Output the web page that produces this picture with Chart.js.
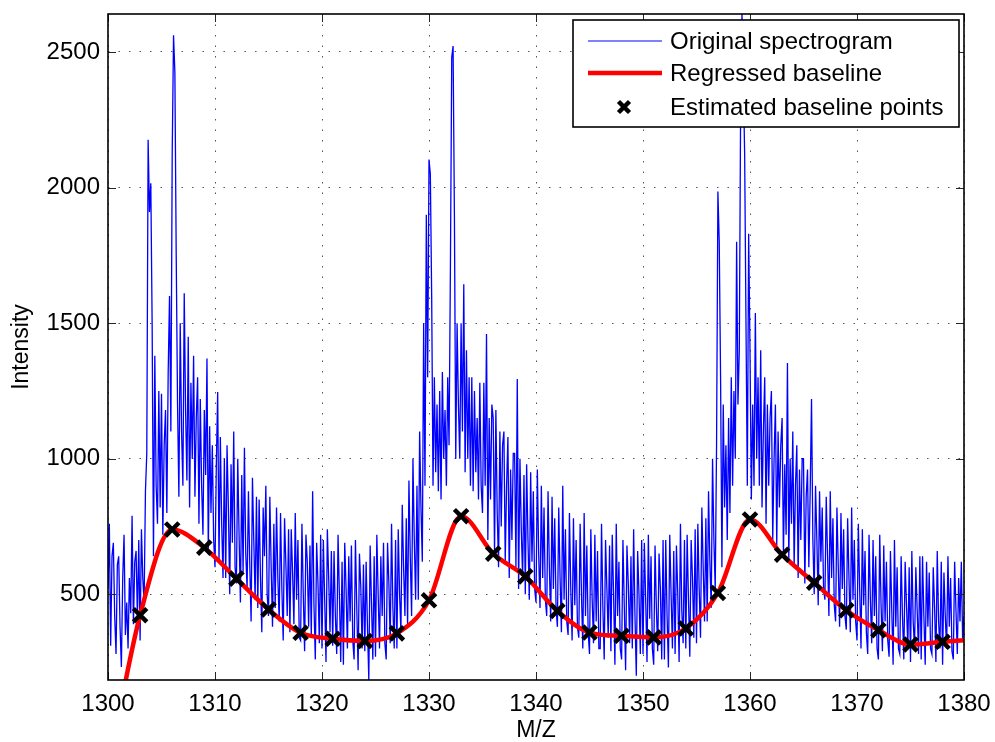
<!DOCTYPE html>
<html>
<head>
<meta charset="utf-8">
<script src="https://cdn.jsdelivr.net/npm/chart.js@4.4.1/dist/chart.umd.min.js"></script>
<style>
html,body{margin:0;padding:0;background:#fff;}
#wrap{position:relative;width:995px;height:742px;}
</style>
</head>
<body>
<div id="wrap"><canvas id="c" width="995" height="742"></canvas></div>
<script>
// ---- data ----
const mzStart = 1300;
const mzStep = 0.125;
const intensity = [
 520, 760, 310, 640, 690, 420, 280, 610,
 640, 380, 232, 560, 720, 350, 470, 300,
 560, 430, 790, 390, 620, 660, 410, 700,
 330, 740, 560, 470, 880, 1020, 2176, 1910,
 2016, 1500, 640, 1380, 900, 760, 1250, 820,
 1240, 720, 1050, 1180, 800, 1320, 1600, 1100,
 2120, 2562, 2426, 1750, 1200, 860, 1500, 1100,
 900, 1610, 1180, 920, 1450, 820, 1280, 1000,
 1380, 860, 1150, 1300, 760, 1220, 900, 720,
 1180, 940, 1370, 650, 1120, 800, 1050, 700,
 600, 980, 1246, 620, 1080, 760, 560, 1000,
 560, 1050, 820, 500, 980, 690, 1100, 600,
 540, 1000, 720, 470, 940, 580, 1040, 650,
 520, 880, 610, 400, 930, 700, 480, 860,
 450, 850, 560, 360, 820, 640, 900, 500,
 420, 860, 600, 380, 760, 450, 820, 560,
 400, 800, 520, 330, 780, 610, 420, 740,
 360, 740, 580, 390, 800, 480, 700, 340,
 330, 760, 500, 290, 720, 620, 380, 680,
 340, 880, 460, 260, 690, 540, 320, 720,
 300, 700, 480, 250, 740, 560, 360, 660,
 310, 660, 420, 280, 720, 500, 250, 620,
 240, 690, 520, 300, 640, 400, 680, 330,
 260, 700, 450, 220, 650, 530, 300, 610,
 290, 620, 380, 184, 680, 470, 260, 640,
 270, 720, 500, 300, 640, 420, 690, 320,
 260, 690, 540, 320, 760, 450, 300, 700,
 300, 740, 500, 360, 830, 600, 420, 780,
 380, 920, 640, 420, 1000, 700, 480, 900,
 480, 1100, 820, 620, 1500, 900, 1900, 1300,
 2103, 2050, 1600, 900, 1300, 950, 1200, 880,
 1250, 850, 1320, 1000, 1180, 900, 1300, 1050,
 1700, 2480, 2522, 1900, 1000, 1500, 1200, 1000,
 1500, 1100, 1643, 950, 1400, 1000, 1300, 900,
 1300, 880, 1250, 950, 1150, 850, 1280, 900,
 800, 1280, 900, 1460, 700, 1150, 850, 1200,
 1150, 650, 1180, 800, 600, 1100, 750, 1050,
 1100, 620, 900, 1080, 560, 960, 700, 1020,
 1020, 600, 1294, 520, 1000, 740, 560, 940,
 500, 980, 700, 480, 950, 620, 880, 520,
 470, 960, 650, 450, 900, 560, 820, 480,
 420, 880, 600, 400, 860, 520, 780, 450,
 380, 820, 560, 360, 900, 480, 740, 400,
 350, 800, 520, 330, 780, 460, 700, 380,
 340, 760, 500, 300, 800, 420, 680, 360,
 280, 740, 480, 320, 720, 400, 660, 300,
 300, 760, 450, 260, 700, 520, 340, 680,
 290, 720, 500, 240, 760, 420, 620, 300,
 260, 700, 460, 220, 680, 540, 320, 640,
 300, 740, 420, 200, 660, 500, 280, 700,
 280, 690, 480, 250, 720, 410, 640, 300,
 240, 680, 450, 290, 650, 520, 260, 700,
 260, 700, 420, 230, 720, 500, 300, 660,
 280, 680, 500, 250, 760, 440, 320, 700,
 300, 720, 480, 270, 700, 560, 340, 740,
 320, 760, 520, 340, 820, 600, 400, 780,
 400, 880, 620, 450, 1000, 700, 520, 1050,
 1985, 1800, 1300, 600, 1200, 820, 1050, 700,
 1150, 800, 1300, 900, 1250, 1000, 1800, 1200,
 1400, 2300, 2640, 2400, 2125, 1500, 900, 1830,
 1400, 850, 1200, 900, 1537, 1000, 1300, 900,
 1400, 820, 1100, 1300, 760, 1200, 900, 1150,
 1250, 700, 1000, 1200, 680, 1100, 820, 1050,
 1150, 640, 980, 720, 1353, 620, 1000, 760,
 1100, 600, 900, 1050, 560, 960, 700, 1000,
 1000, 540, 860, 960, 600, 880, 1220, 700,
 500, 900, 700, 460, 880, 620, 820, 520,
 480, 860, 640, 420, 880, 560, 780, 460,
 400, 820, 600, 380, 800, 520, 740, 420,
 370, 780, 560, 360, 820, 480, 700, 400,
 330, 760, 520, 300, 740, 460, 660, 360,
 280, 720, 480, 320, 700, 420, 640, 300,
 260, 720, 460, 290, 680, 400, 620, 330,
 270, 660, 440, 240, 700, 380, 600, 300,
 280, 640, 420, 260, 620, 460, 300, 600,
 250, 660, 400, 300, 600, 440, 280, 640,
 260, 640, 420, 240, 620, 380, 580, 300,
 280, 600, 450, 250, 660, 400, 300, 620,
 240, 580, 420, 300, 640, 380, 560, 290,
 260, 620, 440, 280, 560, 400, 620, 330,
 420
];
const baselineMz = [1303,1306,1309,1312,1315,1318,1321,1324,1327,1330,1333,1336,1339,1342,1345,1348,1351,1354,1357,1360,1363,1366,1369,1372,1375,1378];
const baselineVal = [423,739,672,558,444,358,336,328,356,478,788,650,566,439,359,347,341,374,505,776,646,543,441,368,315,325];
const curveStart = {mz: 1300, val: -150};
const curveEnd = {mz: 1380, val: 331};
const xTicks = [1300,1310,1320,1330,1340,1350,1360,1370,1380];
const yTicks = [500,1000,1500,2000,2500];
const labels = ['Original spectrogram','Regressed baseline','Estimated baseline points'];

// ---- build ----
const spectrum = intensity.map((v,i)=>({x: mzStart + i*mzStep, y: v}));
const basePts = baselineMz.map((m,i)=>({x:m, y:baselineVal[i]}));
const curvePts = [{x:curveStart.mz,y:curveStart.val}, ...basePts, {x:curveEnd.mz,y:curveEnd.val}];

const FONT = '"Liberation Sans", Arial, Helvetica, sans-serif';

const frame = {
  id: 'frame',
  afterDraw(chart) {
    const {ctx, chartArea: a, scales} = chart;
    ctx.save();
    // inward ticks
    ctx.strokeStyle = '#262626';
    ctx.lineWidth = 1;
    const tl = 8;
    ctx.beginPath();
    scales.x.ticks.forEach(t => {
      const px = Math.round(scales.x.getPixelForValue(t.value)) + 0.5;
      ctx.moveTo(px, a.bottom); ctx.lineTo(px, a.bottom - tl);
      ctx.moveTo(px, a.top); ctx.lineTo(px, a.top + tl);
    });
    scales.y.ticks.forEach(t => {
      const py = Math.round(scales.y.getPixelForValue(t.value)) + 0.5;
      ctx.moveTo(a.left, py); ctx.lineTo(a.left + tl, py);
      ctx.moveTo(a.right, py); ctx.lineTo(a.right - tl, py);
    });
    ctx.stroke();
    // box
    ctx.strokeStyle = '#000';
    ctx.lineWidth = 1.6;
    ctx.strokeRect(a.left, a.top, a.right - a.left, a.bottom - a.top);

    // legend
    const ds = chart.data.datasets;
    const bw = 386, bh = 107;
    const bx = a.right - 5 - bw, by = a.top + 6;
    ctx.fillStyle = '#fff';
    ctx.fillRect(bx, by, bw, bh);
    ctx.strokeStyle = '#000';
    ctx.lineWidth = 1.6;
    ctx.strokeRect(bx, by, bw, bh);
    const rows = [by + 21, by + 53, by + 87];
    ctx.font = '24px ' + FONT;
    ctx.textBaseline = 'middle';
    ctx.textAlign = 'left';
    ds.forEach((d, i) => {
      const ry = rows[i];
      if (d.showLine !== false) {
        ctx.strokeStyle = d.borderColor;
        ctx.lineWidth = d.legendWidth || d.borderWidth;
        ctx.beginPath();
        ctx.moveTo(bx + 15, ry); ctx.lineTo(bx + 89, ry);
        ctx.stroke();
      } else {
        ctx.strokeStyle = d.pointBorderColor;
        ctx.lineWidth = d.pointBorderWidth;
        const r = 5.5;
        const cx = bx + 51;
        ctx.beginPath();
        ctx.moveTo(cx - r, ry - r); ctx.lineTo(cx + r, ry + r);
        ctx.moveTo(cx - r, ry + r); ctx.lineTo(cx + r, ry - r);
        ctx.stroke();
      }
      ctx.fillStyle = '#000';
      ctx.fillText(d.label, bx + 97, ry + 1);
    });
    ctx.restore();
  }
};

new Chart(document.getElementById('c'), {
  type: 'line',
  data: {
    datasets: [
      {label: labels[0], data: spectrum, borderColor: '#0000ff', borderWidth: 1.3, legendWidth: 1, pointRadius: 0, tension: 0, order: 3},
      {label: labels[1], data: curvePts, borderColor: '#ff0000', borderWidth: 4.5, pointRadius: 0, cubicInterpolationMode: 'monotone', order: 2},
      {label: labels[2], data: basePts, showLine: false, pointStyle: 'crossRot', pointRadius: 9.5, pointBorderColor: '#000', pointBackgroundColor: '#000', pointBorderWidth: 4.5, order: 1}
    ]
  },
  options: {
    responsive: false,
    animation: false,
    events: [],
    layout: {padding: {top: 14, right: 31, left: 0, bottom: 0}},
    plugins: {legend: {display: false}, tooltip: {enabled: false}},
    scales: {
      x: {
        type: 'linear', min: 1300, max: 1380,
        afterBuildTicks: s => { s.ticks = xTicks.map(v => ({value: v})); },
        afterFit: s => { s.height = 62; s.paddingLeft = 0; s.paddingRight = 0; },
        ticks: {color: '#000', font: {family: FONT, size: 24}, padding: 10, maxRotation: 0, callback: v => String(v)},
        grid: {color: '#555', lineWidth: 1, drawTicks: false},
        border: {display: false, dash: [1.5, 9]},
        title: {display: true, text: 'M/Z', color: '#000', font: {family: FONT, size: 23, lineHeight: 1}, padding: {top: 0, bottom: 0}}
      },
      y: {
        type: 'linear', min: 184, max: 2640,
        afterBuildTicks: s => { s.ticks = yTicks.map(v => ({value: v})); },
        afterFit: s => { s.width = 108; s.paddingTop = 0; s.paddingBottom = 0; },
        ticks: {color: '#000', font: {family: FONT, size: 24}, padding: 8, callback: v => String(v)},
        grid: {color: '#555', lineWidth: 1, drawTicks: false},
        border: {display: false, dash: [1.5, 9]},
        title: {display: true, text: 'Intensity', color: '#000', font: {family: FONT, size: 23}, padding: {top: 8, bottom: 0}}
      }
    }
  },
  plugins: [frame]
});
</script>
</body>
</html>
